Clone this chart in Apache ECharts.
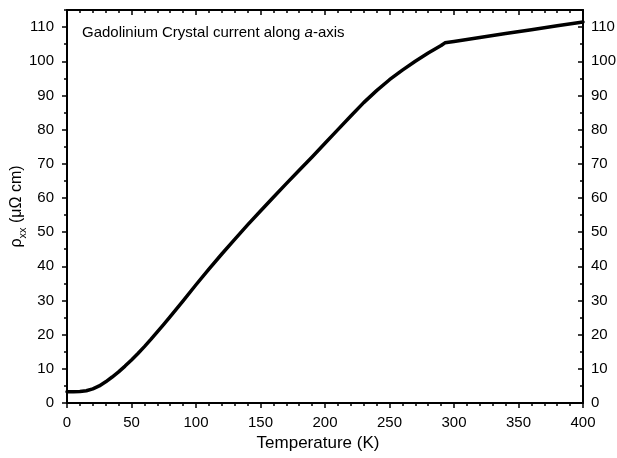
<!DOCTYPE html>
<html>
<head>
<meta charset="utf-8">
<script src="https://cdn.jsdelivr.net/npm/echarts@6/dist/echarts.min.js"></script>
<style>html,body{margin:0;padding:0;background:#fff}#c{width:617px;height:458px}</style>
</head>
<body>
<div id="c"></div>
<script>
// Data
var temperature = [0,5,10,15,20,25,30,35,40,45,50,55,60,65,70,75,80,90,100,110,120,130,140,150,160,170,180,190,200,210,220,230,240,250,260,270,280,290,293,300,320,340,360,380,400];
var rhoXX = [3.3,3.3,3.35,3.6,4.15,5.0,6.2,7.6,9.1,10.8,12.6,14.5,16.5,18.6,20.8,23.0,25.3,29.9,34.6,39.2,43.6,47.9,52.1,56.2,60.2,64.2,68.1,72.0,76.0,80.0,84.0,87.9,91.4,94.6,97.4,100.0,102.4,104.6,105.4,105.8,106.95,108.1,109.25,110.4,111.5];
var xTicks = [0,50,100,150,200,250,300,350,400];
var yMajorTicks = [0,10,20,30,40,50,60,70,80,90,100,110];
var yMinorTicks = [5,15,25,35,45,55,65,75,85,95,105,115];

var FONT = 'Liberation Sans, Arial, Helvetica, sans-serif';
var black = '#000';
var chart = echarts.init(document.getElementById('c'));
var seriesData = temperature.map(function (t, i) { return [t, rhoXX[i]]; });

function xAx(pos) {
  var top = pos === 'top';
  return {
    type: 'value', position: pos, min: xTicks[0], max: xTicks[xTicks.length - 1], interval: 50,
    axisLine: { show: true, onZero: false, lineStyle: { color: black, width: 2 } },
    axisTick: { show: true, inside: top, length: 5, lineStyle: { color: black, width: 1.5 } },
    minorTick: { show: true, splitNumber: 5, length: 3, lineStyle: { color: black, width: 1.5 } },
    splitLine: { show: false },
    axisLabel: { show: !top, color: black, fontSize: 15, fontFamily: FONT, margin: 12 },
    name: top ? '' : 'Temperature (K)', nameLocation: 'middle', nameGap: 32, nameMoveOverlap: false,
    nameTextStyle: { color: black, fontSize: 17, fontFamily: FONT, padding: [0, 14, 0, 0] }
  };
}
function yAx(pos, major) {
  var right = pos === 'right';
  var ticks = major ? yMajorTicks : yMinorTicks;
  return {
    type: 'value', position: pos, min: 0, max: 115, interval: 10,
    axisLine: { show: major, onZero: false, lineStyle: { color: black, width: 2 } },
    axisTick: { show: true, inside: right, length: major ? 5 : 3, customValues: ticks, lineStyle: { color: black, width: 1.5 } },
    splitLine: { show: false },
    axisLabel: { show: major, customValues: yMajorTicks, color: black, fontSize: 15, fontFamily: FONT, margin: right ? 8 : 13 },
    name: (major && !right) ? '{r|ρ}{s|xx}{r| (μΩ cm)}' : '',
    nameLocation: 'middle', nameGap: 40, nameRotate: 90, nameMoveOverlap: false,
    nameTextStyle: {
      color: black, fontFamily: FONT,
      rich: {
        r: { fontSize: 16, fontFamily: FONT, color: black, lineHeight: 18, verticalAlign: 'top' },
        s: { fontSize: 11, fontFamily: FONT, color: black, lineHeight: 12, verticalAlign: 'top', padding: [8, 0, 0, 0] }
      }
    }
  };
}

chart.setOption({
  animation: false,
  backgroundColor: '#fff',
  grid: { left: 67, right: 34, top: 10, bottom: 55, containLabel: false, outerBoundsMode: 'none' },
  title: {
    text: '{n|Gadolinium Crystal current along }{i|a}{n|-axis}',
    left: 82, top: 25, padding: 0,
    textStyle: {
      fontWeight: 'normal',
      rich: {
        n: { fontSize: 15, fontFamily: FONT, color: black, fontWeight: 'normal' },
        i: { fontSize: 15, fontFamily: FONT, color: black, fontStyle: 'italic', fontWeight: 'normal' }
      }
    }
  },
  xAxis: [xAx('bottom'), xAx('top')],
  yAxis: [yAx('left', true), yAx('left', false), yAx('right', true), yAx('right', false)],
  series: [{
    type: 'line', xAxisIndex: 0, yAxisIndex: 0, data: seriesData,
    showSymbol: false, smooth: false,
    lineStyle: { color: black, width: 3.5, join: 'round', cap: 'round' }, itemStyle: { color: black }
  }]
});
</script>
</body>
</html>
